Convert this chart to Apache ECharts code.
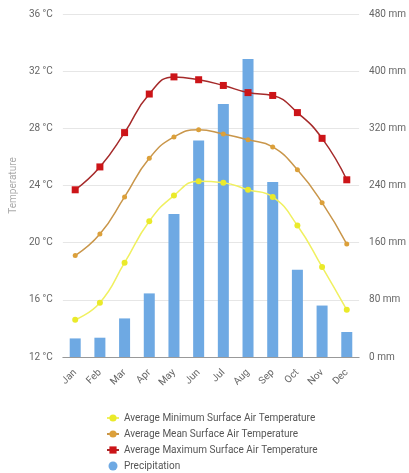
<!DOCTYPE html>
<html>
<head>
<meta charset="utf-8">
<script src="https://cdn.jsdelivr.net/npm/echarts@6/dist/echarts.min.js"></script>
<style>
  html, body { margin: 0; padding: 0; background: #fff; }
  #chart { width: 409px; height: 473px; }
</style>
</head>
<body>
<div id="chart"></div>
<script>
var months = ['Jan', 'Feb', 'Mar', 'Apr', 'May', 'Jun', 'Jul', 'Aug', 'Sep', 'Oct', 'Nov', 'Dec'];
var minTemp = [14.6, 15.8, 18.6, 21.5, 23.3, 24.3, 24.2, 23.7, 23.2, 21.2, 18.3, 15.3];
var meanTemp = [19.1, 20.6, 23.2, 25.9, 27.4, 27.9, 27.6, 27.2, 26.7, 25.1, 22.8, 19.9];
var maxTemp = [23.7, 25.3, 27.7, 30.4, 31.6, 31.4, 31.0, 30.5, 30.3, 29.1, 27.3, 24.4];
var precip = [26, 27, 54, 89, 200, 303, 354, 417, 245, 122, 72, 35];

var chart = echarts.init(document.getElementById('chart'));

chart.setOption({
  animation: false,
  textStyle: { fontFamily: 'Roboto, Arial, sans-serif' },
  grid: { left: 62, right: 47, top: 14, bottom: 116 },
  legend: {
    orient: 'vertical',
    left: 106,
    top: 412,
    height: 70,
    padding: 0,
    itemGap: 4,
    itemWidth: 12,
    itemHeight: 9,
    textStyle: { fontSize: 10, color: '#555', lineHeight: 12 },
    data: [
      'Average Minimum Surface Air Temperature',
      'Average Mean Surface Air Temperature',
      'Average Maximum Surface Air Temperature',
      { name: 'Precipitation', icon: 'circle' }
    ]
  },
  xAxis: {
    type: 'category',
    data: months,
    axisLine: { lineStyle: { color: '#999' } },
    axisTick: { show: false },
    axisLabel: { rotate: 45, color: '#666', fontSize: 10, margin: 14, interval: 0 }
  },
  yAxis: [
    {
      type: 'value',
      name: 'Temperature',
      nameLocation: 'middle',
      nameGap: 37,
      nameTextStyle: { color: '#aaa', fontSize: 10 },
      min: 12,
      max: 36,
      interval: 4,
      axisLabel: { formatter: '{value} °C', color: '#666', fontSize: 10, margin: 10 },
      splitLine: { lineStyle: { color: '#e6e6e6' } }
    },
    {
      type: 'value',
      min: 0,
      max: 480,
      interval: 80,
      axisLabel: { formatter: '{value} mm', color: '#666', fontSize: 10, margin: 10 },
      splitLine: { show: false }
    }
  ],
  series: [
    {
      name: 'Precipitation',
      type: 'bar',
      yAxisIndex: 1,
      z: 1,
      barWidth: 11,
      itemStyle: { color: '#6ea9e3' },
      data: precip
    },
    {
      name: 'Average Minimum Surface Air Temperature',
      type: 'line',
      smooth: true,
      symbol: 'circle',
      symbolSize: 6,
      itemStyle: { color: '#eaea2a' },
      lineStyle: { color: '#f0f060', width: 1.5 },
      data: minTemp
    },
    {
      name: 'Average Mean Surface Air Temperature',
      type: 'line',
      smooth: true,
      symbol: 'circle',
      symbolSize: 5,
      itemStyle: { color: '#dca03a' },
      lineStyle: { color: '#c9964a', width: 1.5 },
      data: meanTemp
    },
    {
      name: 'Average Maximum Surface Air Temperature',
      type: 'line',
      smooth: true,
      symbol: 'rect',
      symbolSize: 7,
      itemStyle: { color: '#cc1418' },
      lineStyle: { color: '#a52a2a', width: 1.5 },
      data: maxTemp
    }
  ]
});
</script>
</body>
</html>
